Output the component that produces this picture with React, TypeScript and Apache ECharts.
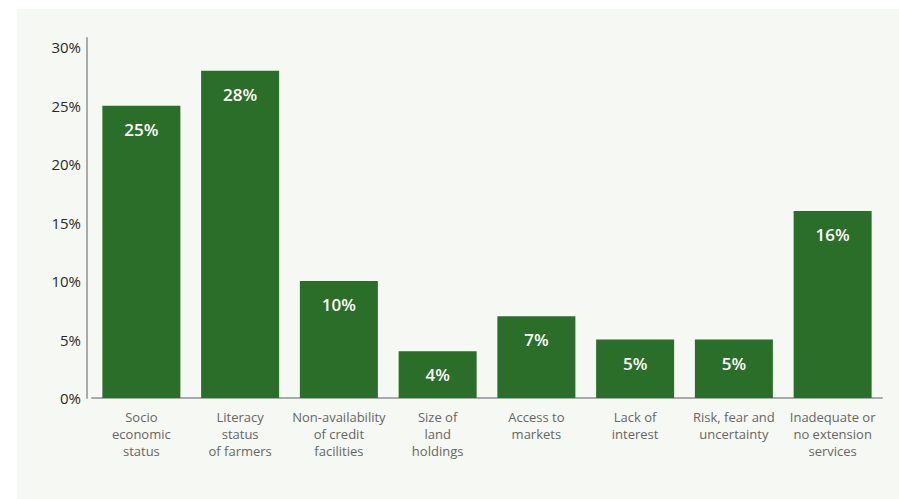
import React, { useEffect, useRef } from "react";
import * as echarts from "echarts";

const categories = [
  "Socio\neconomic\nstatus",
  "Literacy\nstatus\nof farmers",
  "Non-availability\nof credit\nfacilities",
  "Size of\nland\nholdings",
  "Access to\nmarkets",
  "Lack of\ninterest",
  "Risk, fear and\nuncertainty",
  "Inadequate or\nno extension\nservices",
];
const values = [25, 28, 10, 4, 7, 5, 5, 16];
const yTicks = [0, 5, 10, 15, 20, 25, 30];

const FONT = "'Open Sans', 'Noto Sans', sans-serif";

export default function App() {
  const ref = useRef<HTMLDivElement>(null);
  useEffect(() => {
    if (!ref.current) return;
    const chart = echarts.init(ref.current, null, { renderer: "svg" });
    chart.setOption({
      animation: false,
      backgroundColor: "transparent",
      grid: { left: 92, right: 17, top: 38, bottom: 101, containLabel: false },
      xAxis: {
        type: "category",
        data: categories,
        axisLine: { show: true, lineStyle: { color: "#aaaaaa", width: 2 } },
        axisTick: { show: false },
        axisLabel: {
          interval: 0,
          color: "#666666",
          fontFamily: FONT,
          fontSize: 13,
          lineHeight: 17,
          margin: 10,
          align: "center",
        },
      },
      yAxis: {
        type: "value",
        min: 0,
        max: 30.8,
        interval: 5,
        offset: 5,
        splitLine: { show: false },
        axisTick: { show: false },
        axisLine: { show: true, lineStyle: { color: "#aaaaaa", width: 2 } },
        axisLabel: {
          color: "#2a2a2a",
          fontFamily: FONT,
          fontSize: 15,
          margin: 6,
          formatter: (v: number) => (yTicks.includes(v) ? v + "%" : ""),
        },
      },
      series: [
        {
          type: "bar",
          data: values,
          barWidth: 78,
          itemStyle: { color: "#2b6e29" },
          label: {
            show: true,
            position: "insideTop",
            distance: 15,
            color: "#ffffff",
            fontFamily: FONT,
            fontWeight: 600,
            fontSize: 17,
            formatter: (p: any) => p.value + "%",
          },
        },
      ],
    });
    return () => chart.dispose();
  }, []);
  return (
    <div
      style={{
        position: "fixed",
        left: 0,
        top: 0,
        width: 899,
        height: 499,
        background: "#ffffff",
      }}
    >
      <div
        style={{
          position: "absolute",
          left: 17,
          top: 9,
          right: 0,
          bottom: 0,
          background: "#f6f8f3",
        }}
      />
      <div
        ref={ref}
        style={{ position: "absolute", left: 0, top: 0, width: 899, height: 499 }}
      />
    </div>
  );
}
